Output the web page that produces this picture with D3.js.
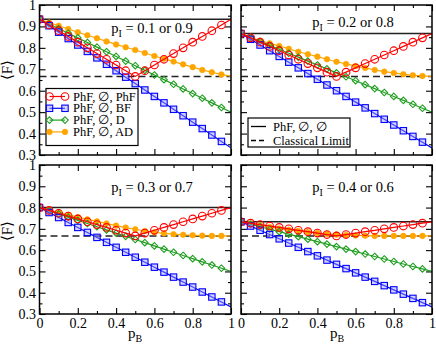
<!DOCTYPE html>
<html lang="en">
<head>
<meta charset="UTF-8">
<title>Fidelity vs p_B</title>
<script src="https://d3js.org/d3.v7.min.js"></script>
<style>
  body { margin: 0; background: #fff; }
  text { font-family: "Liberation Serif", "Times New Roman", serif; fill: #000; }
  .domain { display: none; }
</style>
</head>
<body>
<svg id="chart" width="436" height="345"></svg>
<script>
// p_B sampling (markers drawn up to 0.95, lines reach 1)
var pB = [0, 0.05, 0.1, 0.15, 0.2, 0.25, 0.3, 0.35, 0.4, 0.45, 0.5,
          0.55, 0.6, 0.65, 0.7, 0.75, 0.8, 0.85, 0.9, 0.95, 1];

var panelTitles = ["0.1 or 0.9", "0.2 or 0.8", "0.3 or 0.7", "0.4 or 0.6"];
var flatLevel = [0.9333, 0.8667, 0.8, 0.7333];   // PhF, ∅, ∅
var classicalLimit = 0.6667;

var xTicks = [0, 0.2, 0.4, 0.6, 0.8, 1];
var xMinor = [0.1, 0.3, 0.5, 0.7, 0.9];
var yTicks = [0.3, 0.4, 0.5, 0.6, 0.7, 0.8, 0.9, 1];
var yMinor = [0.35, 0.45, 0.55, 0.65, 0.75, 0.85, 0.95];

var seriesNames = ["PhF, \u2205, PhF", "PhF, \u2205, BF", "PhF, \u2205, D", "PhF, \u2205, AD"];

// p_I = 0.1 or 0.9
var phf1 = [0.9333, 0.9067, 0.88, 0.8533, 0.8267, 0.8, 0.7733, 0.7467, 0.72, 0.6933, 0.6667,
            0.6933, 0.72, 0.7467, 0.7733, 0.8, 0.8267, 0.8533, 0.88, 0.9067, 0.9333];
var bf1  = [0.9333, 0.9033, 0.8733, 0.8433, 0.8133, 0.7833, 0.7533, 0.7233, 0.6933, 0.6633, 0.6333,
            0.6033, 0.5733, 0.5433, 0.5133, 0.4833, 0.4533, 0.4233, 0.3933, 0.3633, 0.3333];
var d1   = [0.9333, 0.9117, 0.89, 0.8683, 0.8467, 0.825, 0.8033, 0.7817, 0.76, 0.7383, 0.7167,
            0.695, 0.6733, 0.6517, 0.63, 0.6083, 0.5867, 0.565, 0.5433, 0.5217, 0.5];
var ad1  = [0.9333, 0.918, 0.903, 0.888, 0.873, 0.859, 0.845, 0.83, 0.816, 0.803, 0.79,
            0.776, 0.762, 0.749, 0.736, 0.723, 0.71, 0.697, 0.686, 0.676, 0.667];

// p_I = 0.2 or 0.8
var phf2 = [0.8667, 0.8467, 0.8267, 0.8067, 0.7867, 0.7667, 0.7467, 0.7267, 0.7067, 0.6867, 0.6667,
            0.6867, 0.7067, 0.7267, 0.7467, 0.7667, 0.7867, 0.8067, 0.8267, 0.8467, 0.8667];
var bf2  = [0.8667, 0.84, 0.8133, 0.7867, 0.76, 0.7333, 0.7067, 0.68, 0.6533, 0.6267, 0.6,
            0.5733, 0.5467, 0.52, 0.4933, 0.4667, 0.44, 0.4133, 0.3867, 0.36, 0.3333];
var d2   = [0.8667, 0.8483, 0.83, 0.8117, 0.7933, 0.775, 0.7567, 0.7383, 0.72, 0.7017, 0.6833,
            0.665, 0.6467, 0.6283, 0.61, 0.5917, 0.5733, 0.555, 0.5367, 0.5183, 0.5];
var ad2  = [0.8667, 0.849, 0.833, 0.821, 0.809, 0.796, 0.782, 0.77, 0.759, 0.747, 0.735,
            0.725, 0.715, 0.706, 0.697, 0.689, 0.683, 0.677, 0.672, 0.669, 0.667];

// p_I = 0.3 or 0.7
var phf3 = [0.8, 0.7867, 0.7733, 0.76, 0.7467, 0.7333, 0.72, 0.7067, 0.6933, 0.68, 0.6667,
            0.68, 0.6933, 0.7067, 0.72, 0.7333, 0.7467, 0.76, 0.7733, 0.7867, 0.8];
var bf3  = [0.8, 0.7767, 0.7533, 0.73, 0.7067, 0.6833, 0.66, 0.6367, 0.6133, 0.59, 0.5667,
            0.5433, 0.52, 0.4967, 0.4733, 0.45, 0.4267, 0.4033, 0.38, 0.3567, 0.3333];
var d3s  = [0.8, 0.785, 0.77, 0.755, 0.74, 0.725, 0.71, 0.695, 0.68, 0.665, 0.65,
            0.635, 0.62, 0.605, 0.59, 0.575, 0.56, 0.545, 0.53, 0.515, 0.5];
var ad3  = [0.8, 0.789, 0.777, 0.766, 0.755, 0.745, 0.735, 0.725, 0.715, 0.706, 0.698,
            0.69, 0.684, 0.679, 0.675, 0.672, 0.67, 0.668, 0.667, 0.667, 0.667];

// p_I = 0.4 or 0.6
var phf4 = [0.7333, 0.7267, 0.72, 0.7133, 0.7067, 0.7, 0.6933, 0.6867, 0.68, 0.6733, 0.6667,
            0.6733, 0.68, 0.6867, 0.6933, 0.7, 0.7067, 0.7133, 0.72, 0.7267, 0.7333];
var bf4  = [0.7333, 0.7133, 0.6933, 0.6733, 0.6533, 0.6333, 0.6133, 0.5933, 0.5733, 0.5533, 0.5333,
            0.5133, 0.4933, 0.4733, 0.4533, 0.4333, 0.4133, 0.3933, 0.3733, 0.3533, 0.3333];
var d4   = [0.7333, 0.7217, 0.71, 0.6983, 0.6867, 0.675, 0.6633, 0.6517, 0.64, 0.6283, 0.6167,
            0.605, 0.5933, 0.5817, 0.57, 0.5583, 0.5467, 0.535, 0.5233, 0.5117, 0.5];
var ad4  = [0.7333, 0.725, 0.717, 0.709, 0.702, 0.696, 0.69, 0.685, 0.68, 0.676, 0.673,
            0.671, 0.669, 0.668, 0.667, 0.667, 0.667, 0.667, 0.667, 0.667, 0.667];

var panelSeries = [[phf1, bf1, d1, ad1], [phf2, bf2, d2, ad2], [phf3, bf3, d3s, ad3], [phf4, bf4, d4, ad4]];

var colors = ["#ff0000", "#0000ff", "#1f9e1f", "#ffa500"];
var serif = "Liberation Serif";

var svg = d3.select("#chart");

// panel frames
var cols = [[39.5, 231], [241, 432]];
var rows = [[5, 155], [165, 314]];

function drawMarker(g, type, cx, cy, color) {
    if (type === 0) {
        g.append("circle").attr("cx", cx).attr("cy", cy).attr("r", 3.8)
            .attr("fill", "none").attr("stroke", color).attr("stroke-width", 1.1);
    } else if (type === 1) {
        g.append("rect").attr("x", cx - 3.2).attr("y", cy - 3.2).attr("width", 6.4).attr("height", 6.4)
            .attr("fill", "#9f9fff").attr("fill-opacity", 0.45).attr("stroke", color).attr("stroke-width", 1.1);
    } else if (type === 2) {
        var s = 3.3;
        g.append("path").attr("d", "M" + cx + "," + (cy - s) + "L" + (cx + s) + "," + cy + "L" + cx + "," + (cy + s) + "L" + (cx - s) + "," + cy + "Z")
            .attr("fill", "none").attr("stroke", color).attr("stroke-width", 1.1);
    } else {
        g.append("circle").attr("cx", cx).attr("cy", cy).attr("r", 2.8)
            .attr("fill", color).attr("stroke", color).attr("stroke-width", 0.6);
    }
}

panelSeries.forEach(function (series, k) {
    var c = k % 2, r = Math.floor(k / 2);
    var x = d3.scaleLinear().domain([0, 1]).range(cols[c]);
    var y = d3.scaleLinear().domain([0.3, 1]).range([rows[r][1], rows[r][0]]);
    var g = svg.append("g");

    var fmt = function (d) { return String(+d.toFixed(2)); };

    // axes: major + minor ticks on all four sides, pointing inward
    var ph = rows[r][1] - rows[r][0], pw = cols[c][1] - cols[c][0];
    g.append("g").attr("transform", "translate(0," + rows[r][1] + ")")
        .call(d3.axisBottom(x).tickValues(xTicks).tickSize(-6).tickPadding(4)
            .tickFormat(r === 1 ? fmt : ""));
    g.append("g").attr("transform", "translate(0," + rows[r][1] + ")")
        .call(d3.axisBottom(x).tickValues(xMinor).tickSize(-3).tickFormat(""));
    g.append("g").attr("transform", "translate(0," + rows[r][0] + ")")
        .call(d3.axisTop(x).tickValues(xTicks).tickSize(-6).tickFormat(""));
    g.append("g").attr("transform", "translate(0," + rows[r][0] + ")")
        .call(d3.axisTop(x).tickValues(xMinor).tickSize(-3).tickFormat(""));
    g.append("g").attr("transform", "translate(" + cols[c][0] + ",0)")
        .call(d3.axisLeft(y).tickValues(yTicks).tickSize(-6).tickPadding(3.5)
            .tickFormat(c === 0 ? fmt : ""));
    g.append("g").attr("transform", "translate(" + cols[c][0] + ",0)")
        .call(d3.axisLeft(y).tickValues(yMinor).tickSize(-3).tickFormat(""));
    g.append("g").attr("transform", "translate(" + cols[c][1] + ",0)")
        .call(d3.axisRight(y).tickValues(yTicks).tickSize(-6).tickFormat(""));
    g.append("g").attr("transform", "translate(" + cols[c][1] + ",0)")
        .call(d3.axisRight(y).tickValues(yMinor).tickSize(-3).tickFormat(""));
    g.selectAll("g").attr("font-family", serif).attr("font-size", 14);
    g.selectAll(".tick line").attr("stroke", "#000").attr("stroke-width", 1.1);

    var clipId = "clip" + k;
    svg.append("clipPath").attr("id", clipId).append("rect")
        .attr("x", cols[c][0]).attr("y", rows[r][0]).attr("width", pw).attr("height", ph);
    var plot = g.append("g").attr("clip-path", "url(#" + clipId + ")");

    // reference lines
    plot.append("line").attr("x1", x(0)).attr("x2", x(1))
        .attr("y1", y(flatLevel[k])).attr("y2", y(flatLevel[k]))
        .attr("stroke", "#222").attr("stroke-width", 1.5);
    plot.append("line").attr("x1", x(0)).attr("x2", x(1))
        .attr("y1", y(classicalLimit)).attr("y2", y(classicalLimit))
        .attr("stroke", "#222").attr("stroke-width", 1.5).attr("stroke-dasharray", "7,4");

    var line = d3.line().x(function (d, i) { return x(pB[i]); }).y(function (d) { return y(d); });

    // draw order: AD, D, BF, PhF (red on top)
    [3, 2, 1, 0].forEach(function (s) {
        plot.append("path").datum(series[s]).attr("d", line)
            .attr("fill", "none").attr("stroke", colors[s]).attr("stroke-width", 1.2);
        series[s].forEach(function (v, i) {
            if (i < pB.length - 1) drawMarker(plot, s, x(pB[i]), y(v), colors[s]);
        });
    });

    // frame
    g.append("rect").attr("x", cols[c][0]).attr("y", rows[r][0]).attr("width", pw).attr("height", ph)
        .attr("fill", "none").attr("stroke", "#000").attr("stroke-width", 1.5);

    // panel title
    var tx = (k % 2 === 0) ? 152 : 353;
    var ty = [33, 27, 192, 192][k];
    var t = g.append("text").attr("x", tx).attr("y", ty).attr("text-anchor", "middle")
        .attr("font-family", serif).attr("font-size", 14.5);
    t.append("tspan").text("p");
    t.append("tspan").attr("dy", 4).attr("font-size", 10).text("I");
    t.append("tspan").attr("dy", -4).text(" = " + panelTitles[k]);
});

// y-axis titles
[70, 231].forEach(function (cy) {
    var t = svg.append("text").attr("transform", "translate(12," + cy + ") rotate(-90)")
        .attr("text-anchor", "middle").attr("font-family", serif).attr("font-size", 15);
    t.append("tspan").text("\u27E8");
    t.append("tspan").style("text-decoration", "overline").text("F");
    t.append("tspan").text("\u27E9");
});

// x-axis titles
[135, 337].forEach(function (cx) {
    var t = svg.append("text").attr("x", cx).attr("y", 338).attr("text-anchor", "middle")
        .attr("font-family", serif).attr("font-size", 15);
    t.append("tspan").text("p");
    t.append("tspan").attr("dy", 4).attr("font-size", 10).text("B");
});

// legend 1 (top-left panel)
var lg1 = svg.append("g");
lg1.append("rect").attr("x", 46).attr("y", 88.5).attr("width", 92).attr("height", 57)
    .attr("fill", "#fff").attr("stroke", "#000").attr("stroke-width", 1.2);
seriesNames.forEach(function (name, s) {
    var yy = 96.5 + s * 11.8;
    lg1.append("line").attr("x1", 49.5).attr("x2", 65).attr("y1", yy).attr("y2", yy)
        .attr("stroke", colors[s]).attr("stroke-width", 1.2);
    drawMarker(lg1, s, 49.5, yy, colors[s]);
    drawMarker(lg1, s, 65, yy, colors[s]);
    lg1.append("text").attr("x", 73).attr("y", yy + 4).attr("font-family", serif)
        .attr("font-size", 12.5).text(name);
});

// legend 2 (top-right panel)
var lg2 = svg.append("g");
lg2.append("rect").attr("x", 248).attr("y", 118).attr("width", 102).attr("height", 29)
    .attr("fill", "#fff").attr("stroke", "#000").attr("stroke-width", 1.2);
lg2.append("line").attr("x1", 251).attr("x2", 266).attr("y1", 126.5).attr("y2", 126.5)
    .attr("stroke", "#000").attr("stroke-width", 1.3);
lg2.append("text").attr("x", 273).attr("y", 130.5).attr("font-family", serif)
    .attr("font-size", 12.5).text("PhF, \u2205, \u2205");
lg2.append("line").attr("x1", 251).attr("x2", 266).attr("y1", 140.5).attr("y2", 140.5)
    .attr("stroke", "#000").attr("stroke-width", 1.3).attr("stroke-dasharray", "5,3");
lg2.append("text").attr("x", 273).attr("y", 144.5).attr("font-family", serif)
    .attr("font-size", 12.5).text("Classical Limit");
</script>
</body>
</html>
